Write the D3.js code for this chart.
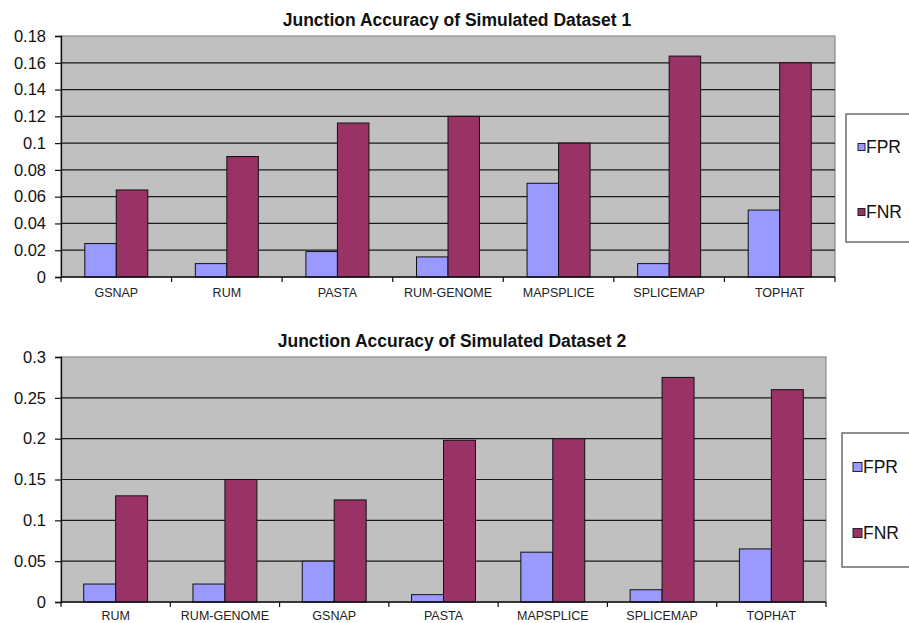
<!DOCTYPE html>
<html>
<head>
<meta charset="utf-8">
<script src="https://cdn.jsdelivr.net/npm/d3@7"></script>
<style>
  body { margin: 0; background: #fff; }
  svg { font-family: "Liberation Sans", Arial, sans-serif; }
</style>
</head>
<body>
<div id="chart"></div>
<script>
// data
var series = ["FPR", "FNR"];
var colors = ["#9999ff", "#993366"];

var cats1 = ["GSNAP", "RUM", "PASTA", "RUM-GENOME", "MAPSPLICE", "SPLICEMAP", "TOPHAT"];
var fpr1 = [0.025, 0.01, 0.019, 0.015, 0.07, 0.01, 0.05];
var fnr1 = [0.065, 0.09, 0.115, 0.12, 0.1, 0.165, 0.16];
var ticks1 = [0, 0.02, 0.04, 0.06, 0.08, 0.1, 0.12, 0.14, 0.16, 0.18];

var cats2 = ["RUM", "RUM-GENOME", "GSNAP", "PASTA", "MAPSPLICE", "SPLICEMAP", "TOPHAT"];
var fpr2 = [0.022, 0.022, 0.05, 0.009, 0.061, 0.015, 0.065];
var fnr2 = [0.13, 0.15, 0.125, 0.198, 0.2, 0.275, 0.26];
var ticks2 = [0, 0.05, 0.1, 0.15, 0.2, 0.25, 0.3];

var svg = d3.select("#chart")
    .append("svg")
    .attr("width", 909)
    .attr("height", 623);

// first chart
drawChart({
  title: "Junction Accuracy of Simulated Dataset 1",
  cats: cats1, vals: [fpr1, fnr1], ticks: ticks1,
  left: 61, right: 835, top: 36, bottom: 277,
  titleX: 457, titleY: 26, outerPad: 0.755, labelPad: 11,
  legend: {x: 846, y: 114, h: 128, y1: 147, y2: 212, sq: 7, sx: 858}
});

// second chart
drawChart({
  title: "Junction Accuracy of Simulated Dataset 2",
  cats: cats2, vals: [fpr2, fnr2], ticks: ticks2,
  left: 61, right: 826, top: 357, bottom: 602,
  titleX: 452, titleY: 347, outerPad: 0.71, labelPad: 9,
  legend: {x: 842, y: 433, h: 134, y1: 467, y2: 533, sq: 9, sx: 853}
});

function drawChart(c) {
  var g = svg.append("g");

  var x = d3.scaleBand()
      .domain(c.cats)
      .range([c.left, c.right]);

  var x1 = d3.scaleBand()
      .domain(series)
      .range([0, x.bandwidth()])
      .paddingInner(0)
      .paddingOuter(c.outerPad);

  var y = d3.scaleLinear()
      .domain([0, d3.max(c.ticks)])
      .range([c.bottom, c.top]);

  // plot background
  g.append("rect")
    .attr("x", c.left)
    .attr("y", c.top)
    .attr("width", c.right - c.left)
    .attr("height", c.bottom - c.top)
    .style("fill", "#c0c0c0")
    .style("stroke", "#8a8a8a")
    .style("stroke-width", 1.2);

  // gridlines
  g.selectAll(".grid")
    .data(c.ticks.filter(function(t) { return t > 0 && t < d3.max(c.ticks); }))
    .enter().append("line")
    .attr("x1", c.left)
    .attr("x2", c.right)
    .attr("y1", function(d) { return y(d); })
    .attr("y2", function(d) { return y(d); })
    .style("stroke", "#1a1a1a")
    .style("stroke-width", 1.2);

  // bars
  var rows = c.cats.map(function(cat, i) {
    return series.map(function(s, j) { return {cat: cat, s: s, j: j, v: c.vals[j][i]}; });
  });

  g.selectAll(".grp")
    .data(rows)
    .enter().append("g")
    .attr("transform", function(d) { return "translate(" + x(d[0].cat) + ",0)"; })
    .selectAll("rect")
    .data(function(d) { return d; })
    .enter().append("rect")
    .attr("x", function(d) { return x1(d.s); })
    .attr("width", x1.bandwidth())
    .attr("y", function(d) { return y(d.v); })
    .attr("height", function(d) { return c.bottom - y(d.v); })
    .style("fill", function(d) { return colors[d.j]; })
    .style("stroke", "#111")
    .style("stroke-width", 1);

  // y axis
  var yAxis = d3.axisLeft(y)
      .tickValues(c.ticks)
      .tickFormat(function(d) { return String(d); })
      .tickSize(6)
      .tickPadding(9);

  var ya = g.append("g")
      .attr("transform", "translate(" + c.left + ",0)")
      .call(yAxis);
  ya.select(".domain").style("stroke", "#111").style("stroke-width", 1.3);
  ya.selectAll(".tick line").style("stroke", "#111").style("stroke-width", 1.2);
  ya.selectAll("text")
    .style("font-size", "16.5px")
    .style("fill", "#111");

  // x axis line and ticks at band edges
  g.append("line")
    .attr("x1", c.left)
    .attr("x2", c.right)
    .attr("y1", c.bottom)
    .attr("y2", c.bottom)
    .style("stroke", "#111")
    .style("stroke-width", 1.3);

  var edges = c.cats.map(function(d) { return x(d); }).concat([c.right]);
  g.selectAll(".xtick")
    .data(edges)
    .enter().append("line")
    .attr("x1", function(d) { return d; })
    .attr("x2", function(d) { return d; })
    .attr("y1", c.bottom)
    .attr("y2", c.bottom + 5)
    .style("stroke", "#111")
    .style("stroke-width", 1.2);

  // category labels
  var xAxis = d3.axisBottom(x)
      .tickSize(0)
      .tickPadding(c.labelPad);

  var xa = g.append("g")
      .attr("transform", "translate(0," + c.bottom + ")")
      .call(xAxis);
  xa.select(".domain").remove();
  xa.selectAll("text")
    .style("font-size", "12.5px")
    .style("fill", "#222");

  // title
  g.append("text")
    .attr("x", c.titleX)
    .attr("y", c.titleY)
    .attr("text-anchor", "middle")
    .style("font-size", "17.5px")
    .style("font-weight", "bold")
    .style("fill", "#111")
    .text(c.title);

  // legend
  var L = c.legend;
  g.append("rect")
    .attr("x", L.x)
    .attr("y", L.y)
    .attr("width", 90)
    .attr("height", L.h)
    .style("fill", "#fff")
    .style("stroke", "#555")
    .style("stroke-width", 1.3);

  var items = g.selectAll(".leg")
      .data(series)
      .enter().append("g")
      .attr("transform", function(d, i) { return "translate(0," + (i === 0 ? L.y1 : L.y2) + ")"; });

  items.append("rect")
    .attr("x", L.sx)
    .attr("y", -L.sq / 2)
    .attr("width", L.sq)
    .attr("height", L.sq)
    .style("fill", function(d, i) { return colors[i]; })
    .style("stroke", "#222")
    .style("stroke-width", 1);

  items.append("text")
    .attr("x", L.sx + L.sq + 1)
    .attr("dy", "0.35em")
    .style("font-size", "17.5px")
    .style("fill", "#111")
    .text(function(d) { return d; });
}
</script>
</body>
</html>
